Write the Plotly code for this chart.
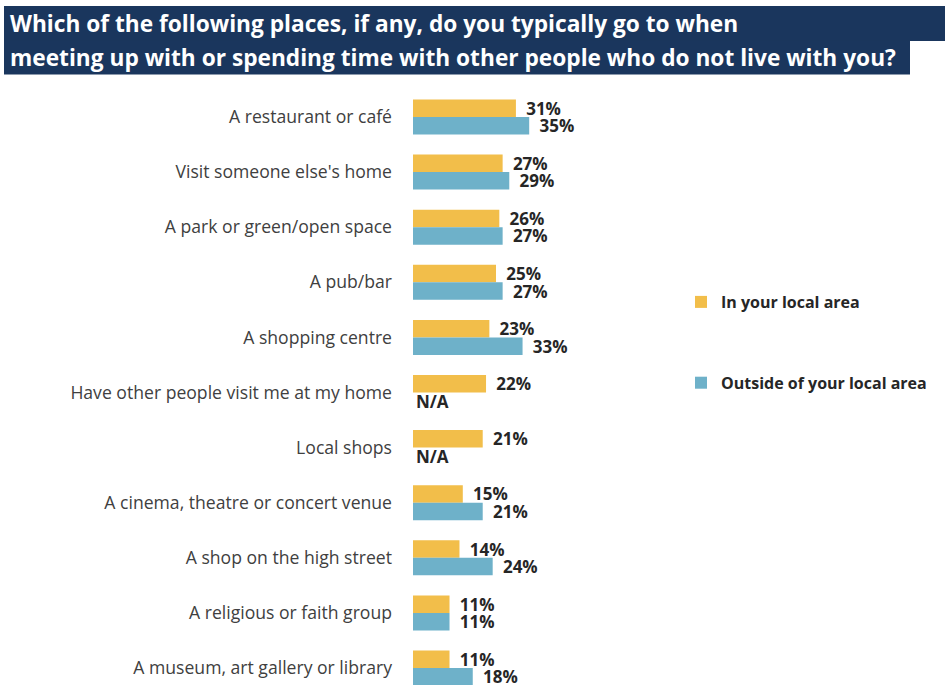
import plotly.graph_objects as go

categories = [
    "A restaurant or café",
    "Visit someone else's home",
    "A park or green/open space",
    "A pub/bar",
    "A shopping centre",
    "Have other people visit me at my home",
    "Local shops",
    "A cinema, theatre or concert venue",
    "A shop on the high street",
    "A religious or faith group",
    "A museum, art gallery or library",
]
local_area = [31, 27, 26, 25, 23, 22, 21, 15, 14, 11, 11]
outside_area = [35, 29, 27, 27, 33, None, None, 21, 24, 11, 18]
series_names = ["In your local area", "Outside of your local area"]
title_lines = [
    "Which of the following places, if any, do you typically go to when",
    "meeting up with or spending time with other people who do not live with you?",
]

W, H = 945, 685
L, R, T, B = 413, 255, 90, 0
PW, PH = W - L - R, H - T - B


def px_x(p):
    return (p - L) / PW


def px_y(p):
    return (H - B - p) / PH


YELLOW = "#F2BE4A"
BLUE = "#6EB1C9"
NAVY = "#1A365D"
TXT = "#262626"


def labels(vals):
    return ["N/A" if v is None else f"\u00a0\u2009{v}%" for v in vals]


fig = go.Figure()
for name, vals, col in [(series_names[0], local_area, YELLOW),
                        (series_names[1], outside_area, BLUE)]:
    fig.add_trace(go.Bar(
        y=categories,
        x=[0 if v is None else v for v in vals],
        orientation="h",
        name=name,
        legendgroup=name,
        marker=dict(color=col, line=dict(width=0)),
        text=labels(vals),
        textposition="outside",
        cliponaxis=False,
        constraintext="none",
        textfont=dict(family="Open Sans", size=17, color=TXT, weight="bold"),
        hoverinfo="skip",
    ))

shapes = [
    dict(type="rect", xref="paper", yref="paper", x0=px_x(4), x1=px_x(946),
         y0=px_y(41), y1=px_y(6), fillcolor=NAVY, line=dict(width=0), layer="below"),
    dict(type="rect", xref="paper", yref="paper", x0=px_x(4), x1=px_x(910),
         y0=px_y(74.5), y1=px_y(40.5), fillcolor=NAVY, line=dict(width=0), layer="below"),
]
title_font = dict(family="Open Sans", size=22.7, color="white", weight="bold")
annotations = [
    dict(text=title_lines[0], xref="paper", yref="paper", x=px_x(8), y=px_y(23.5),
         xanchor="left", yanchor="middle", showarrow=False, font=title_font),
    dict(text=title_lines[1], xref="paper", yref="paper", x=px_x(8), y=px_y(58),
         xanchor="left", yanchor="middle", showarrow=False, font=title_font),
]

fig.update_layout(
    width=W, height=H,
    margin=dict(l=L, r=R, t=T, b=B, pad=0),
    paper_bgcolor="white", plot_bgcolor="white",
    barmode="group", bargap=0.365, bargroupgap=0,
    showlegend=True,
    legend=dict(x=px_x(681), y=px_y(285), xanchor="left", yanchor="top",
                tracegroupgap=57, bgcolor="rgba(0,0,0,0)",
                font=dict(family="Open Sans", size=16, color=TXT, weight="bold"),
                traceorder="grouped"),
    xaxis=dict(range=[0, PW / 3.32], visible=False, fixedrange=True),
    yaxis=dict(categoryorder="array", categoryarray=categories,
               range=[-0.49 + PH / 55.1, -0.49], showgrid=False, zeroline=False,
               showline=False, ticks="", ticklabelstandoff=20, fixedrange=True,
               tickfont=dict(family="Open Sans", size=17.6, color="#404040")),
    shapes=shapes, annotations=annotations,
    font=dict(family="Open Sans"),
)

fig.write_html("out.html",
               config={"displayModeBar": False},
               post_script="document.body.style.margin='0';document.body.style.padding='0';")
